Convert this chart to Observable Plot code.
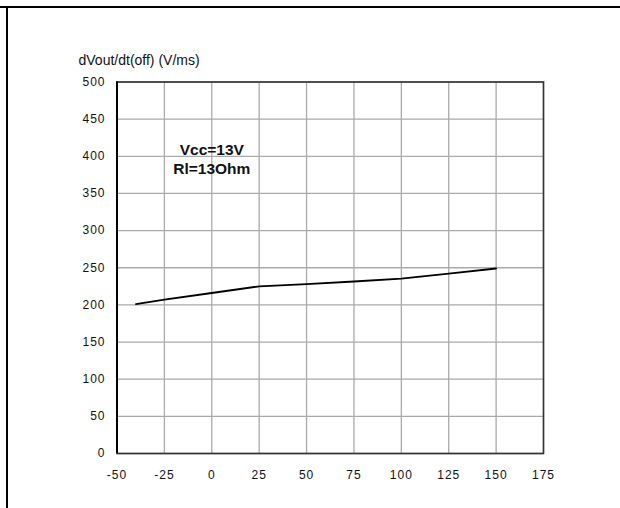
<!DOCTYPE html>
<html>
<head>
<meta charset="utf-8">
<script src="https://cdn.jsdelivr.net/npm/d3@7"></script>
<script src="https://cdn.jsdelivr.net/npm/@observablehq/plot@0.6"></script>
<style>
  html, body { margin: 0; padding: 0; background: #fff; }
  #wrap { position: relative; width: 620px; height: 508px; overflow: hidden; }
  #border { position: absolute; left: 6px; top: 6px; right: -4px; bottom: -4px;
            border-left: 2px solid #000; border-top: 2px solid #000; }
  #topline { position: absolute; left: 0; top: 6px; width: 620px; border-top: 2px solid #000; }
  #chart { position: absolute; left: 0; top: 0; }
  g[aria-label="x-axis tick label"] text,
  g[aria-label="y-axis tick label"] text { letter-spacing: 1px; }
  g[aria-label="title"] text { letter-spacing: 1.1px; }
</style>
</head>
<body>
<div id="wrap">
  <div id="border"></div>
  <div id="topline"></div>
  <div id="chart"></div>
</div>
<script>
// Data
const temps = [-40, -25, 0, 25, 50, 75, 100, 125, 150];
const rates = [201, 207, 216, 225, 228, 231.5, 235.5, 242, 249];
const xTicks = [-50, -25, 0, 25, 50, 75, 100, 125, 150, 175];
const yTicks = [0, 50, 100, 150, 200, 250, 300, 350, 400, 450, 500];
const yTitle = "dVout/dt(off) (V/ms)";
const noteLines = ["Vcc=13V", "Rl=13Ohm"];
const noteX = 0;
const noteY = 397;

const data = temps.map((t, i) => ({t, r: rates[i]}));

const chart = Plot.plot({
  width: 620,
  height: 508,
  marginLeft: 116.5,
  marginRight: 77,
  marginTop: 81.5,
  marginBottom: 55,
  style: {fontFamily: "'Liberation Sans', Arial, sans-serif", fontSize: "12px", background: "transparent", color: "#000"},
  x: {domain: [-50, 175]},
  y: {domain: [0, 500]},
  marks: [
    Plot.gridX(xTicks, {stroke: "#aaa", strokeOpacity: 1, strokeWidth: 1.3}),
    Plot.gridY(yTicks, {stroke: "#aaa", strokeOpacity: 1, strokeWidth: 1.3}),
    Plot.frame({stroke: "#333", strokeWidth: 1.6}),
    Plot.ruleX([-50], {stroke: "#000", strokeWidth: 2}),
    Plot.axisX(xTicks, {tickSize: 0, tickPadding: 17, label: null, fill: "#111", tickFormat: d => String(d)}),
    Plot.axisY(yTicks, {tickSize: 0, tickPadding: 11.5, label: null, fill: "#111", tickFormat: d => String(d)}),
    Plot.line(data, {x: "t", y: "r", stroke: "#000", strokeWidth: 1.8}),
    Plot.text([noteLines.join("\n")], {x: () => noteX, y: () => noteY, text: d => d,
      fontWeight: "bold", fontSize: 15.5, lineHeight: 1.2, fill: "#111"}),
    Plot.text([yTitle], {frameAnchor: "top-left", dx: -38.5, dy: -17, text: d => d,
      textAnchor: "start", lineAnchor: "bottom", fontSize: 14, fill: "#111", ariaLabel: "title"})
  ]
});
document.getElementById("chart").appendChild(chart);
</script>
</body>
</html>
